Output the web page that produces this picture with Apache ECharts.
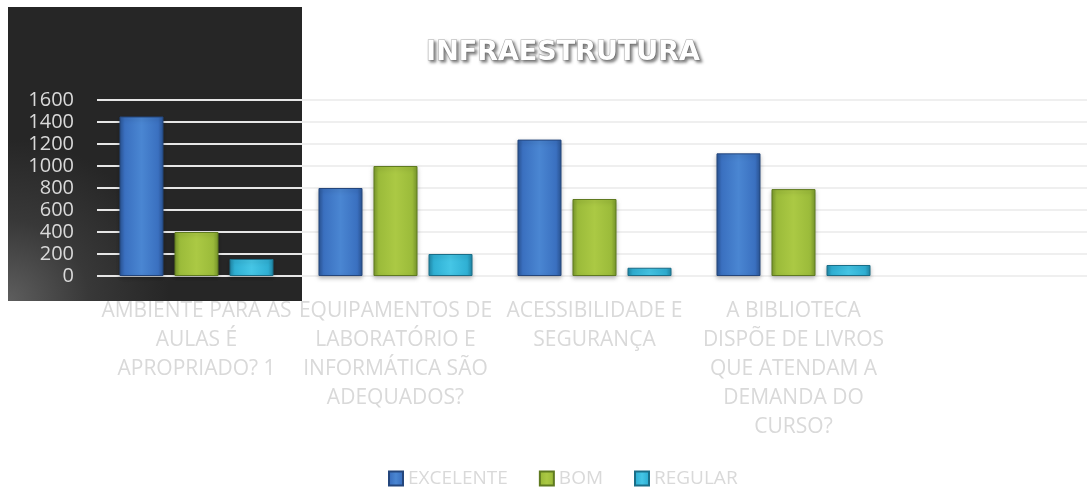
<!DOCTYPE html>
<html>
<head>
<meta charset="utf-8">
<script src="https://cdn.jsdelivr.net/npm/echarts@6/dist/echarts.min.js"></script>
<style>html,body{margin:0;padding:0;background:#fff;}#c{width:1087px;height:491px;}</style>
</head>
<body>
<div id="c"></div>
<script>
const categories = [
  'AMBIENTE PARA AS\nAULAS É\nAPROPRIADO? 1',
  'EQUIPAMENTOS DE\nLABORATÓRIO E\nINFORMÁTICA SÃO\nADEQUADOS?',
  'ACESSIBILIDADE E\nSEGURANÇA',
  'A BIBLIOTECA\nDISPÕE DE LIVROS\nQUE ATENDAM A\nDEMANDA DO\nCURSO?',
  ''
];
const excelente = [1450, 800, 1240, 1115, null];
const bom = [400, 1000, 700, 790, null];
const regular = [155, 200, 75, 100, null];
const yTicks = [0, 200, 400, 600, 800, 1000, 1200, 1400, 1600];

function barGrad(dark, main, light) {
  return new echarts.graphic.LinearGradient(0, 0, 1, 0, [
    {offset: 0, color: dark},
    {offset: 0.12, color: main},
    {offset: 0.5, color: light},
    {offset: 0.88, color: main},
    {offset: 1, color: dark}
  ]);
}
const styles = {
  EXCELENTE: {fill: barGrad('#2a5596', '#3a70c0', '#4a86d2'), border: '#24467c'},
  BOM: {fill: barGrad('#7a9a2c', '#9bbb3a', '#abc944'), border: '#5f7a20'},
  REGULAR: {fill: barGrad('#2088a8', '#2fb0d4', '#45c6e6'), border: '#1a6e88'}
};

const chart = echarts.init(document.getElementById('c'), null, {renderer: 'canvas'});
const gridColor = {
  type: 'linear', x: 0, y: 0, x2: 1087, y2: 0, global: true,
  colorStops: [
    {offset: 0, color: '#e6e6e6'},
    {offset: 302 / 1087, color: '#e6e6e6'},
    {offset: 302.5 / 1087, color: '#efefef'},
    {offset: 1, color: '#efefef'}
  ]
};
function mkSeries(name, data) {
  const s = styles[name];
  return {
    name: name,
    type: 'bar',
    data: data,
    barGap: '25%',
    barCategoryGap: '22.6%',
    itemStyle: {
      color: s.fill,
      borderColor: s.border,
      borderWidth: 1,
      shadowColor: 'rgba(0,0,0,0.25)',
      shadowBlur: 4,
      shadowOffsetY: 2
    }
  };
}
chart.setOption({
  animation: false,
  backgroundColor: '#ffffff',
  graphic: {
    elements: [{
      type: 'rect',
      z: -100,
      shape: {x: 8, y: 7, width: 294, height: 294},
      style: {
        fill: new echarts.graphic.RadialGradient(0, 1, 0.55, [
          {offset: 0, color: '#5e5e5e'},
          {offset: 0.5, color: '#383838'},
          {offset: 1, color: '#262626'}
        ])
      }
    }]
  },
  title: {
    text: 'INFRAESTRUTURA',
    left: 558,
    textAlign: 'center',
    top: 34,
    textStyle: {
      fontFamily: 'DejaVu Sans',
      fontWeight: 'bold',
      fontSize: 27,
      color: '#ffffff',
      textBorderColor: '#b0b0b0',
      textBorderWidth: 1.2,
      textShadowColor: 'rgba(0,0,0,0.45)',
      textShadowBlur: 3,
      textShadowOffsetX: 2,
      textShadowOffsetY: 2
    }
  },
  legend: {
    top: 464,
    left: 383,
    icon: 'rect',
    itemWidth: 14,
    itemHeight: 14,
    itemGap: 31,
    textStyle: {color: '#d9d9d9', fontSize: 19, fontFamily: 'Open Sans'},
    data: ['EXCELENTE', 'BOM', 'REGULAR']
  },
  grid: {
    left: 97,
    top: 100,
    width: 995,
    height: 176,
    containLabel: false,
    outerBoundsMode: 'none'
  },
  xAxis: {
    type: 'category',
    data: categories,
    axisLine: {show: false},
    axisTick: {show: false},
    axisLabel: {
      interval: 0,
      margin: 21,
      color: '#d9d9d9',
      fontSize: 21,
      lineHeight: 29,
      fontFamily: 'Open Sans',
      align: 'center'
    }
  },
  yAxis: {
    type: 'value',
    min: yTicks[0],
    max: yTicks[yTicks.length - 1],
    interval: yTicks[1] - yTicks[0],
    axisLine: {show: false},
    axisTick: {show: false},
    axisLabel: {
      color: '#d9d9d9', fontSize: 20, fontFamily: 'Open Sans', margin: 23,
      formatter: function (v) { return String(v); }
    },
    splitLine: {lineStyle: {color: gridColor, width: 2}}
  },
  series: [
    mkSeries('EXCELENTE', excelente),
    mkSeries('BOM', bom),
    mkSeries('REGULAR', regular)
  ]
});
</script>
</body>
</html>
